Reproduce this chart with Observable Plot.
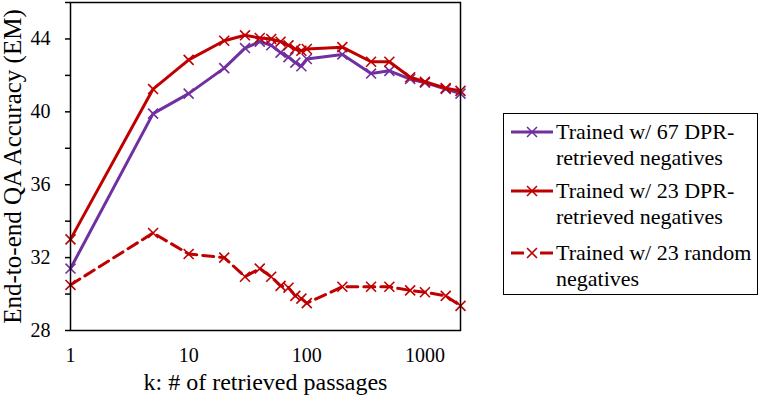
<!DOCTYPE html>
<html>
<head>
<meta charset="utf-8">
<script src="https://cdn.jsdelivr.net/npm/d3@7"></script>
<script src="https://cdn.jsdelivr.net/npm/@observablehq/plot@0.6"></script>
<style>
  html, body { margin: 0; padding: 0; background: white; }
  #wrap { position: relative; width: 761px; height: 404px; font-family: 'Liberation Serif', 'DejaVu Serif', serif; }
  #chart { position: absolute; left: 0; top: 0; }
  #legend { position: absolute; left: 503px; top: 113px; width: 255px; height: 182px; box-sizing: border-box; border: 1.5px solid black; background: white; }
  .item { position: absolute; left: 0; width: 100%; }
  .item svg { position: absolute; left: 6px; top: 0; }
  .item .txt { position: absolute; left: 52px; top: 0; font-size: 22px; line-height: 26px; white-space: nowrap; color: black; font-family: 'Liberation Serif', 'DejaVu Serif', serif; }
</style>
</head>
<body>
<div id="wrap">
  <div id="chart"></div>
  <div id="legend"></div>
</div>
<script>
// ---- data ----
const kValues = [1, 5, 10, 20, 30, 40, 50, 60, 70, 80, 90, 100, 200, 350, 500, 750, 1000, 1500, 2000];
const dpr67 = [31.4, 39.9, 41.0, 42.4, 43.5, 43.85, 43.65, 43.25, 43.0, 42.7, 42.5, 42.9, 43.15, 42.1, 42.25, 41.8, 41.6, 41.25, 41.0];
const dpr23 = [33.0, 41.25, 42.85, 43.9, 44.2, 44.05, 44.0, 43.85, 43.65, 43.45, 43.35, 43.45, 43.55, 42.75, 42.75, 41.9, 41.65, 41.3, 41.15];
const random23 = [30.5, 33.35, 32.2, 32.0, 30.95, 31.4, 30.95, 30.45, 30.35, 29.9, 29.75, 29.5, 30.4, 30.4, 30.4, 30.2, 30.1, 29.9, 29.35];
const seriesNames = ["Trained w/ 67 DPR-retrieved negatives", "Trained w/ 23 DPR-retrieved negatives", "Trained w/ 23 random negatives"];
const legendLines = [["Trained w/ 67 DPR-", "retrieved negatives"], ["Trained w/ 23 DPR-", "retrieved negatives"], ["Trained w/ 23 random", "negatives"]];
const seriesColors = ["#7030A0", "#C00000", "#C00000"];
const seriesDash = [null, null, "11,6"];
const yTickLabels = [28, 32, 36, 40, 44];
const yMinorTicks = [28, 30, 32, 34, 36, 38, 40, 42, 44, 46];
const xTickLabels = [1, 10, 100, 1000];

const seriesValues = [dpr67, dpr23, random23];
const drawOrder = [2, 0, 1];
const FONT = "'Liberation Serif', 'DejaVu Serif', serif";

const lineMarks = [];
for (const si of drawOrder) {
  const rows = kValues.map((k, i) => ({k, v: seriesValues[si][i], s: seriesNames[si]}));
  lineMarks.push(Plot.line(rows, {x: "k", y: "v", stroke: seriesColors[si], strokeWidth: 3, strokeDasharray: seriesDash[si] || undefined}));
  lineMarks.push(Plot.dot(rows, {x: "k", y: "v", symbol: "times", r: 4.6, stroke: seriesColors[si], strokeWidth: 1.6}));
}

const chart = Plot.plot({
  width: 490,
  height: 404,
  marginLeft: 70,
  marginRight: 30,
  marginTop: 2,
  marginBottom: 74,
  x: {type: "log", domain: [1, 2000]},
  y: {domain: [28, 46]},
  style: {fontFamily: FONT, fontSize: "21px", color: "black", background: "white", overflow: "visible"},
  marks: [
    Plot.axisY({ticks: yMinorTicks, tickSize: 5, tickFormat: () => "", label: null, strokeWidth: 1.5}),
    Plot.axisY({ticks: yTickLabels, tickSize: 0, tickPadding: 20, label: null, fontSize: 20}),
    Plot.axisX({ticks: xTickLabels, tickSize: 0, tickPadding: 17, tickFormat: d => String(d), label: null, fontSize: 20}),
    Plot.text(["End-to-end QA Accuracy (EM)"], {frameAnchor: "left", textAnchor: "middle", rotate: -90, dx: -58, fontSize: 25, fill: "black"}),
    Plot.text(["k: # of retrieved passages"], {frameAnchor: "bottom", textAnchor: "middle", dy: 59, fontSize: 24, fill: "black"}),
    ...lineMarks,
    Plot.frame({stroke: "black", strokeWidth: 1.5})
  ]
});
document.getElementById("chart").appendChild(chart);

// ---- legend ----
const legend = document.getElementById("legend");
const rowTops = [5, 64, 126];
seriesNames.forEach((name, i) => {
  const item = document.createElement("div");
  item.className = "item";
  item.style.top = rowTops[i] + "px";
  const svg = d3.create("svg").attr("width", 44).attr("height", 26);
  svg.append("line").attr("x1", 1).attr("x2", 43).attr("y1", 13).attr("y2", 13)
    .attr("stroke", seriesColors[i]).attr("stroke-width", 3)
    .attr("stroke-dasharray", i === 2 ? "13,16" : null);
  svg.append("path").attr("d", d3.symbol(d3.symbolTimes, 4.6 * 4.6 * Math.PI)())
    .attr("transform", "translate(22,13)").attr("fill", "none")
    .attr("stroke", seriesColors[i]).attr("stroke-width", 1.6);
  item.appendChild(svg.node());
  const txt = document.createElement("div");
  txt.className = "txt";
  txt.innerHTML = legendLines[i].join("<br>");
  item.appendChild(txt);
  legend.appendChild(item);
});
</script>
</body>
</html>
